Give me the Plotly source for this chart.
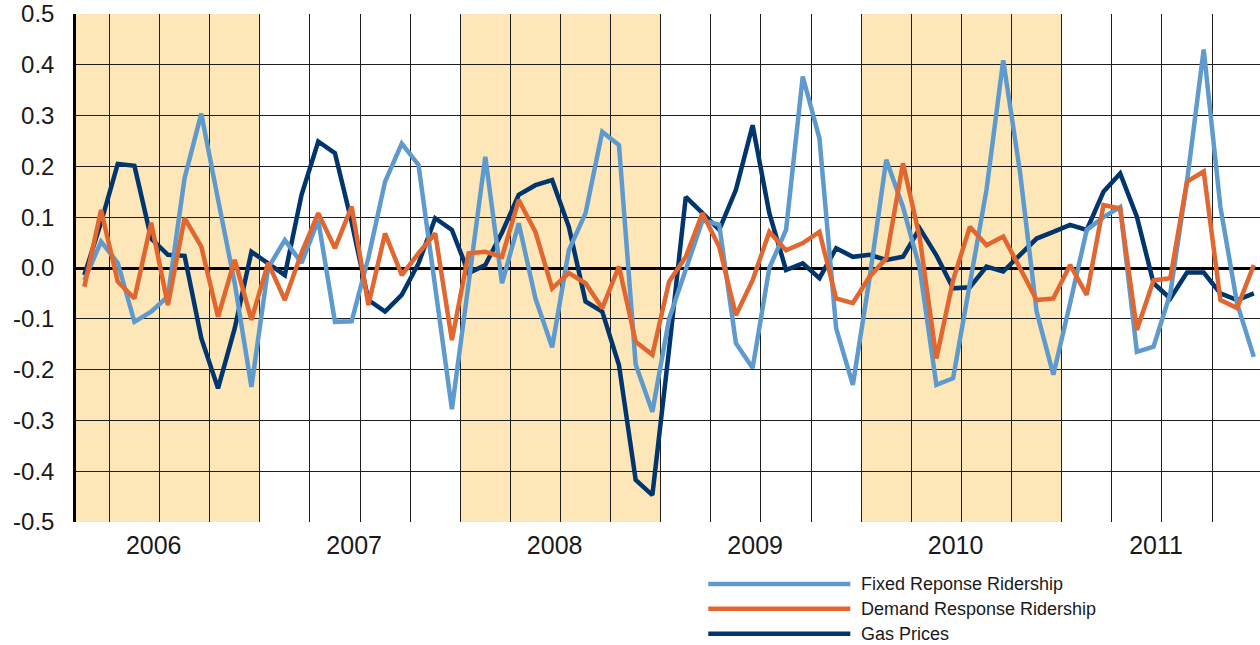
import plotly.graph_objects as go

# Monthly values, Feb 2006 .. Dec 2011
years = [2006, 2007, 2008, 2009, 2010, 2011]
shaded_years = [2006, 2008, 2010]
first_month = 2  # February 2006

fixed_response = [
    -0.024, 0.052, 0.010, -0.106, -0.086, -0.056, 0.177, 0.304, 0.135, -0.030, -0.234,
    0.000, 0.055, 0.010, 0.094, -0.106, -0.105, 0.020, 0.170, 0.245, 0.203, -0.030, -0.278,
    -0.030, 0.219, -0.030, 0.088, -0.060, -0.156, 0.035, 0.108, 0.268, 0.242, -0.190, -0.283,
    -0.100, 0.000, 0.094, 0.085, -0.148, -0.197, 0.000, 0.075, 0.377, 0.255, -0.119, -0.230,
    -0.020, 0.213, 0.120, 0.000, -0.230, -0.217, -0.030, 0.154, 0.409, 0.190, -0.086, -0.210,
    -0.070, 0.075, 0.100, 0.120, -0.165, -0.155, -0.050, 0.170, 0.430, 0.120, -0.070, -0.175,
]
demand_response = [
    -0.037, 0.114, -0.027, -0.060, 0.089, -0.073, 0.098, 0.042, -0.096, 0.016, -0.102,
    0.010, -0.063, 0.030, 0.108, 0.039, 0.121, -0.073, 0.068, -0.014, 0.029, 0.068, -0.142,
    0.029, 0.032, 0.022, 0.134, 0.071, -0.040, -0.010, -0.030, -0.079, 0.003, -0.145, -0.171,
    -0.027, 0.022, 0.108, 0.042, -0.093, -0.024, 0.071, 0.035, 0.049, 0.071, -0.060, -0.069,
    -0.017, 0.019, 0.206, 0.060, -0.178, -0.024, 0.081, 0.045, 0.062, 0.000, -0.063, -0.060,
    0.006, -0.053, 0.124, 0.117, -0.122, -0.024, -0.020, 0.170, 0.190, -0.063, -0.079, 0.006,
]
gas_prices = [
    -0.014, 0.090, 0.205, 0.201, 0.058, 0.026, 0.024, -0.138, -0.237, -0.119, 0.032,
    0.010, -0.014, 0.144, 0.249, 0.226, 0.090, -0.063, -0.086, -0.053, 0.009, 0.098, 0.075,
    -0.010, 0.006, 0.070, 0.144, 0.163, 0.173, 0.081, -0.066, -0.086, -0.191, -0.417, -0.447,
    -0.160, 0.140, 0.108, 0.075, 0.154, 0.281, 0.108, -0.004, 0.009, -0.020, 0.039, 0.022,
    0.026, 0.016, 0.022, 0.078, 0.025, -0.040, -0.038, 0.003, -0.007, 0.026, 0.058, 0.071,
    0.085, 0.075, 0.150, 0.186, 0.101, -0.030, -0.060, -0.009, -0.009, -0.050, -0.063, -0.050,
]
series_names = ["Fixed Reponse Ridership", "Demand Response Ridership", "Gas Prices"]
y_ticks = [0.5, 0.4, 0.3, 0.2, 0.1, 0.0, -0.1, -0.2, -0.3, -0.4, -0.5]
y_tick_labels = ["0.5", "0.4", "0.3", "0.2", "0.1", "0.0", "-0.1", "-0.2", "-0.3", "-0.4", "-0.5"]

C_FIXED = "#5E9ACD"
C_DEMAND = "#E1662F"
C_GAS = "#00356D"
SHADE = "#FDE6B7"
GRID = "#1e1e1e"
FONT = "Liberation Sans"

n = len(fixed_response)
x = list(range(n))


def year_start(yr):
    # index of January of a year (Feb 2006 = 0)
    return (yr - 2006) * 12 - (first_month - 1)


quarter_bounds = [i + 0.5 for i in range(n) if (i + first_month) % 3 == 0 and i < n - 1]
year_centers = [year_start(y) + 5.5 - 0.35 for y in years]

fig = go.Figure()
for vals, name, col in [
    (gas_prices, series_names[2], C_GAS),
    (fixed_response, series_names[0], C_FIXED),
    (demand_response, series_names[1], C_DEMAND),
]:
    fig.add_trace(go.Scatter(x=x, y=vals, name=name, mode="lines",
                             line=dict(color=col, width=4.5), showlegend=False))

shapes = []
for yr in shaded_years:
    shapes.append(dict(type="rect", xref="x", yref="paper",
                       x0=max(year_start(yr) - 0.5, -0.5), x1=year_start(yr) + 11.5,
                       y0=0, y1=1, fillcolor=SHADE, line=dict(width=0), layer="below"))

# manual legend (long line samples under the chart)
legend_rows = [(series_names[0], C_FIXED), (series_names[1], C_DEMAND), (series_names[2], C_GAS)]
annotations = []
for k, (name, col) in enumerate(legend_rows):
    yy = -0.122 - k * 0.049
    shapes.append(dict(type="line", xref="paper", yref="paper", x0=0.534, x1=0.654,
                       y0=yy, y1=yy, line=dict(color=col, width=4.5)))
    annotations.append(dict(xref="paper", yref="paper", x=0.661, y=yy, text=name,
                            showarrow=False, xanchor="left", yanchor="middle",
                            font=dict(family=FONT, size=18, color="#1a1a1a")))

fig.update_layout(
    width=1260, height=645,
    margin=dict(l=76, r=0, t=14, b=123),
    plot_bgcolor="white", paper_bgcolor="white",
    shapes=shapes, annotations=annotations,
    showlegend=False,
    xaxis=dict(range=[-0.5, 70.37], tickmode="array", tickvals=year_centers,
               ticktext=[str(y) for y in years], showgrid=False, zeroline=False,
               showline=False, ticks="", tickfont=dict(family=FONT, size=25, color="#1a1a1a"),
               ticklabelstandoff=6, automargin=False,
               minor=dict(tickmode="array", tickvals=quarter_bounds, showgrid=True,
                          gridcolor=GRID, gridwidth=1, ticks="")),
    yaxis=dict(range=[-0.5, 0.5], tickmode="array", tickvals=y_ticks, ticktext=y_tick_labels,
               showgrid=True, gridcolor=GRID, gridwidth=1, automargin=False,
               zeroline=True, zerolinecolor="black", zerolinewidth=2.5,
               showline=True, linecolor="black", linewidth=2.5, ticks="",
               ticklabelstandoff=14, tickfont=dict(family=FONT, size=24, color="#1a1a1a")),
)

fig.write_html("out.html", config={"displayModeBar": False},
               post_script="document.body.style.margin='0';document.body.style.padding='0';")
